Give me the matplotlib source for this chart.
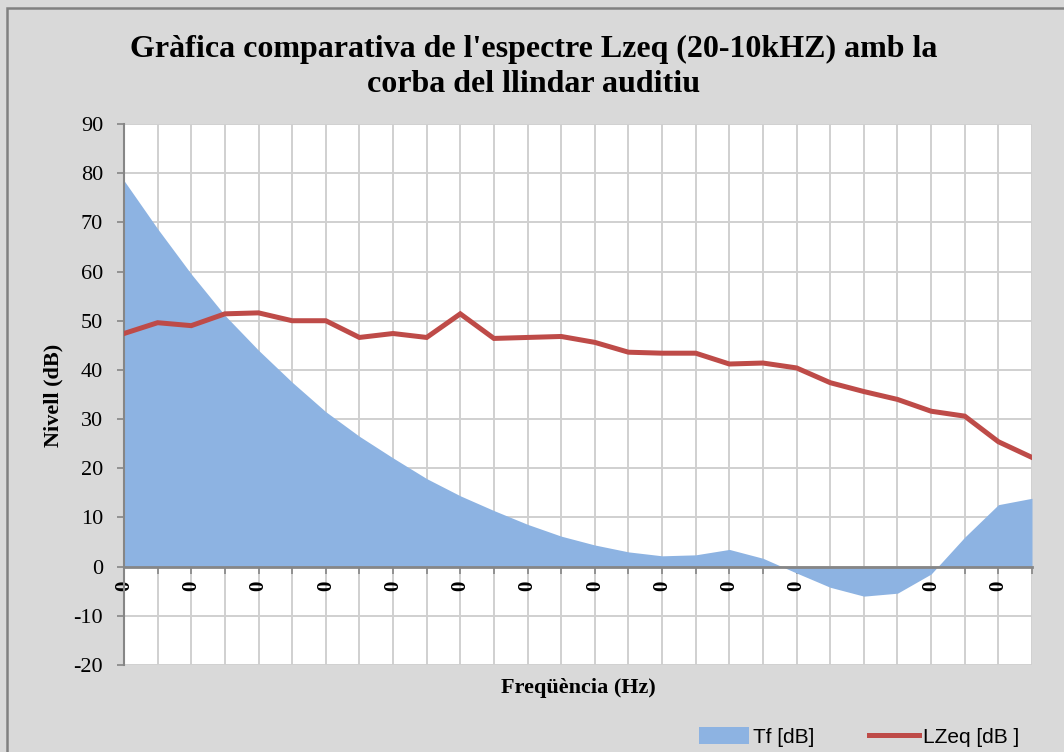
import matplotlib
matplotlib.use("Agg")
import matplotlib.pyplot as plt
from matplotlib.patches import Rectangle, Patch
from matplotlib.lines import Line2D

plt.rcParams["axes.unicode_minus"] = False

# Data (28 one-third-octave bands, 20 Hz - 10 kHz); category labels shown as "0"
categories = ["0"] * 28
tf_db = [78.5, 68.7, 59.5, 51.1, 44.0, 37.5, 31.5, 26.5, 22.1, 17.9, 14.4, 11.4,
         8.6, 6.2, 4.4, 3.0, 2.2, 2.4, 3.5, 1.7, -1.3, -4.2, -6.0, -5.4, -1.5,
         6.0, 12.6, 13.9]
lzeq_db = [47.4, 49.6, 49.0, 51.4, 51.6, 50.0, 50.0, 46.6, 47.4, 46.6, 51.4, 46.4,
           46.6, 46.8, 45.6, 43.6, 43.4, 43.4, 41.2, 41.4, 40.4, 37.4, 35.6, 34.0,
           31.6, 30.6, 25.4, 22.2]
yticks = list(range(-20, 91, 10))

title = "Gràfica comparativa de l'espectre Lzeq (20-10kHZ) amb la\ncorba del llindar auditiu"
xlabel = "Freqüència (Hz)"
ylabel = "Nivell (dB)"

W, H = 1064, 752
fig = plt.figure(figsize=(W / 100, H / 100), dpi=100)
bg = "#d9d9d9"
fig.patch.set_facecolor(bg)
# outer border
fig.patches.append(Rectangle((7 / W, -0.05), 1.1, 1 - 8 / H + 0.05, transform=fig.transFigure,
                             fill=False, edgecolor="#808080", linewidth=1.8, zorder=0))

ax = fig.add_axes([124 / W, 1 - 665 / H, (1032 - 124) / W, (665 - 124) / H])
ax.set_facecolor("white")

x = list(range(len(categories)))
ax.fill_between(x, 0, tf_db, color="#8db3e2", linewidth=0, zorder=2)
ax.plot(x, lzeq_db, color="#be4b48", linewidth=3.6, zorder=3, solid_joinstyle="miter")

ax.set_xlim(0, len(categories) - 1)
ax.set_ylim(-20, 90)
ax.set_yticks(yticks)
ax.set_xticks(x)
ax.set_xticklabels([c if i % 2 == 0 else "" for i, c in enumerate(categories)])
ax.grid(True, color="#d0d0d0", linewidth=1.4, zorder=1)
ax.set_axisbelow(True)

for s in ["top", "right"]:
    ax.spines[s].set_visible(False)
ax.spines["left"].set_color("#868686")
ax.spines["left"].set_linewidth(1.5)
ax.spines["bottom"].set_position(("data", 0))
ax.spines["bottom"].set_color("#868686")
ax.spines["bottom"].set_linewidth(2.0)
ax.spines["bottom"].set_zorder(4)

ax.tick_params(axis="y", direction="out", length=5, width=1.2, color="#868686",
               labelsize=16, pad=10)
ax.tick_params(axis="x", direction="out", length=5, width=1.2, color="#868686", pad=5,
               labelrotation=90, labelsize=15)
for lab in ax.get_yticklabels():
    lab.set_family("Liberation Serif")
for lab in ax.get_xticklabels():
    lab.set_family("Liberation Serif")
    lab.set_fontweight("bold")
    lab.set_rotation(90)

fig.text(534 / W, 1 - 67 / H, title, ha="center", va="center", fontsize=23,
         fontweight="bold", family="Liberation Serif", linespacing=1.3)
fig.text(53 / W, 1 - 395 / H, ylabel, ha="center", va="center", rotation=90,
         fontsize=16, fontweight="bold", family="Liberation Serif")
fig.text(578 / W, 1 - 688 / H, xlabel, ha="center", va="center",
         fontsize=16, fontweight="bold", family="Liberation Serif")

handles = [Patch(facecolor="#8db3e2", edgecolor="none"),
           Line2D([0], [0], color="#be4b48", linewidth=3.6)]
leg = fig.legend(handles, ["Tf [dB]", "LZeq [dB ]"], loc="center right",
                 bbox_to_anchor=(1038 / W, 1 - 737 / H), ncol=2, frameon=False,
                 handlelength=2.4, handleheight=0.9, columnspacing=2.6,
                 handletextpad=0.2, prop={"family": "Liberation Sans", "size": 15})

fig.savefig("out.png", dpi=100, facecolor=bg)
